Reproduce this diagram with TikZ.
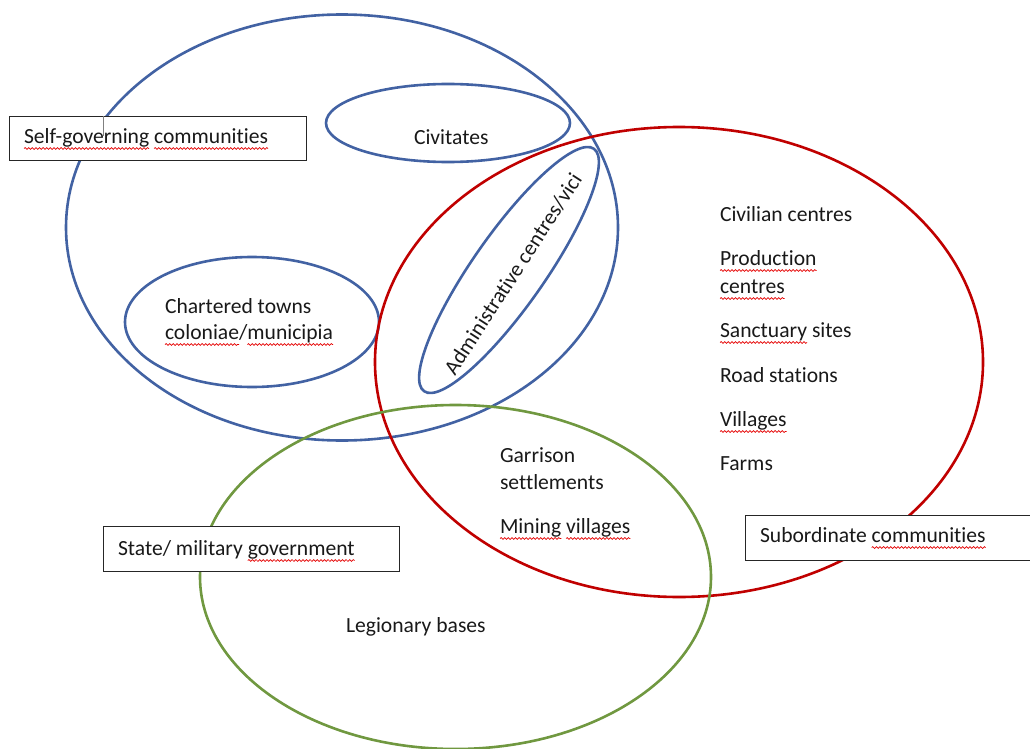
\documentclass[tikz,border=0pt]{standalone}
\usepackage{fontspec}
\setmainfont{Carlito}[RawFeature={-liga;-calt;-clig;-dlig}]
\usetikzlibrary{shapes.geometric,decorations.pathmorphing}
\definecolor{vblue}{RGB}{66,98,163}
\definecolor{vred}{RGB}{192,0,0}
\definecolor{vgreen}{RGB}{112,152,64}
\tikzset{
  ell/.style={ellipse, draw, line width=2.6pt, inner sep=0pt, outer sep=0pt},
  lbox/.style={rectangle, draw=black!85, line width=1.3pt, fill=white, inner sep=0pt, anchor=north west},
  txt/.style={anchor=base west, inner sep=0pt, outer sep=0pt, text=black!90},
  squig/.style={draw=red!90!black, line width=0.7pt, decorate, decoration={snake, amplitude=0.9pt, segment length=3.6pt}}
}
\newcommand\squnder[1]{\draw[squig] ([yshift=-5.5pt]#1.base west) -- ([yshift=-5.5pt]#1.base east);}
\begin{document}
\begin{tikzpicture}[x=1pt,y=-1pt,font=\fontsize{21.6}{28}\selectfont]
\useasboundingbox (0,0) rectangle (1030,749);
% ellipses
\node[ell, draw=vblue, minimum width=552pt, minimum height=426pt] (self) at (342,227.5) {};
\node[ell, draw=vblue, minimum width=244pt, minimum height=78pt] (civ) at (448,123) {};
\node[ell, draw=vblue, minimum width=254pt, minimum height=130pt] (chart) at (252,322) {};
\node[ell, draw=vblue, minimum width=296pt, minimum height=72pt, rotate=55] (admin) at (509,270) {};
\node[ell, draw=vred, minimum width=608pt, minimum height=470pt] (sub) at (679,362) {};
\node[ell, draw=vgreen, minimum width=511pt, minimum height=344pt] (mil) at (455.5,577) {};
% boxes
\node[lbox, minimum width=297pt, minimum height=44pt] (sgbox) at (9,116) {};
\draw[gray, line width=0.8pt] (103,116) coordinate (cur1) -- (103,136) coordinate (cur2);
\node[lbox, minimum width=296pt, minimum height=45pt] (smbox) at (103,526) {};
\node[lbox, minimum width=300pt, minimum height=45pt] (scbox) at (745,515) {};
% box labels
\node[txt] (sga) at (24,143) {Self-governing};
\node[txt] (sgb) at ([xshift=4.9pt]sga.base east) {communities};
\squnder{sga}\squnder{sgb}
\node[txt] (sma) at (118,555) {State/ military};
\node[txt] (smb) at ([xshift=4.9pt]sma.base east) {government};
\squnder{smb}
\node[txt] (sca) at (760,542) {Subordinate};
\node[txt] (scb) at ([xshift=4.9pt]sca.base east) {communities};
\squnder{scb}
% inner texts
\node[txt] (civt) at (414,144) {Civitates};
\node[txt] (ch1) at (165,313) {Chartered towns};
\node[txt] (ch2a) at (165,339) {coloniae};
\node[txt] (ch2b) at (ch2a.base east) {/};
\node[txt] (ch2c) at (ch2b.base east) {municipia};
\squnder{ch2a}\squnder{ch2c}
\node[rotate=57, inner sep=0pt, text=black!90] (admt) at (513,274) {Administrative centres/vici};
\node[txt] (s1) at (720,221) {Civilian centres};
\node[txt] (s2) at (720,265) {Production};
\node[txt] (s3) at (720,293) {centres};
\node[txt] (s4a) at (720,337) {Sanctuary};
\node[txt] (s4b) at ([xshift=4.9pt]s4a.base east) {sites};
\node[txt] (s5) at (720,382) {Road stations};
\node[txt] (s6) at (720,426) {Villages};
\node[txt] (s7) at (720,470) {Farms};
\squnder{s2}\squnder{s3}\squnder{s4a}\squnder{s6}
\node[txt] (g1) at (500,462) {Garrison};
\node[txt] (g2) at (500,489) {settlements};
\node[txt] (g3a) at (500,533) {Mining};
\node[txt] (g3b) at ([xshift=4.9pt]g3a.base east) {villages};
\squnder{g3a}\squnder{g3b}
\node[txt] (leg) at (346,632) {Legionary bases};
\end{tikzpicture}
\end{document}
